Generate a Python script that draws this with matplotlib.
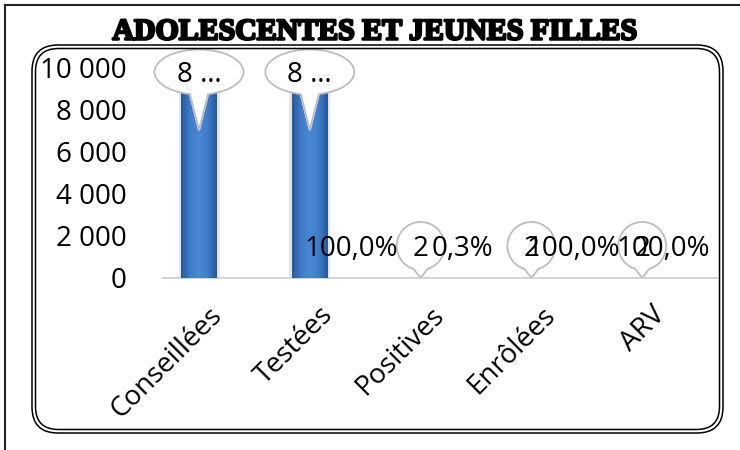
import matplotlib
matplotlib.use("Agg")
from matplotlib import pyplot as plt
from matplotlib import patheffects
from matplotlib.patches import Ellipse, Polygon, FancyBboxPatch
from matplotlib.lines import Line2D
from matplotlib.colors import LinearSegmentedColormap
from matplotlib.transforms import ScaledTranslation
import numpy as np

categories = ['Conseillées', 'Testées', 'Positives', 'Enrôlées', 'ARV']
effectifs = [8950, 8950, 2, 2, 2]
pourcentages = [None, 100.0, 0.3, 100.0, 100.0]
y_ticks = [0, 2000, 4000, 6000, 8000, 10000]
title = 'ADOLESCENTES ET JEUNES FILLES'

W, H = 740, 450
fig = plt.figure(figsize=(W / 100, H / 100), dpi=100)
plt.rcParams['font.family'] = ['Open Sans', 'DejaVu Sans']


def px(x, y):
    # pixel coords from top-left -> figure inches
    return x / 100, (H - y) / 100


# frames
inch = fig.dpi_scale_trans
fig.add_artist(Line2D([px(5, 0)[0], px(5, 0)[0]], [px(0, 5)[1], px(0, 450)[1]],
                      transform=inch, color='#222222', lw=1.5))
fig.add_artist(Line2D([px(5, 0)[0], px(740, 0)[0]], [px(0, 5)[1], px(0, 5)[1]],
                      transform=inch, color='#222222', lw=1.5))
for x0, y0, x1, y1, r in [(32, 45, 723, 433, 0.26), (35.5, 48.5, 719.5, 429.5, 0.23)]:
    a = px(x0, y1)
    b = px(x1, y0)
    fig.add_artist(FancyBboxPatch(a, b[0] - a[0], b[1] - a[1],
                                  boxstyle=f'round,pad=0,rounding_size={r}',
                                  transform=inch, fill=False, ec='black', lw=1.1))

fig.text(375 / W, 1 - 32 / H, title, ha='center', va='center',
         family='Liberation Serif', weight='bold', fontsize=21.5,
         path_effects=[patheffects.withStroke(linewidth=1.8, foreground='black')])

ax = fig.add_axes([163 / W, (H - 278) / H, (717 - 163) / W, (278 - 68) / H])
x = np.arange(len(categories))
bw = 0.32
off = -0.175

# bars with soft shadow and gradient
ax.bar(x + off, effectifs, width=bw + 0.05, color='#e6e6e6', zorder=1)
bars = ax.bar(x + off, effectifs, width=bw, color='#3a73c0', zorder=2)
cmap = LinearSegmentedColormap.from_list('bar', ['#28579a', '#3f7cca', '#4a88d4', '#3f7cca', '#28579a'])
grad = np.linspace(0, 1, 64).reshape(1, -1)
for b in bars:
    im = ax.imshow(grad, cmap=cmap, aspect='auto', zorder=3,
                   extent=[b.get_x(), b.get_x() + b.get_width(), 0, b.get_height()])
    im.set_clip_path(b)

ax.set_yticks(y_ticks)
ax.set_yticklabels([f'{v:,}'.replace(',', ' ') for v in y_ticks], fontsize=20)
ax.set_xticks(x)
ax.set_xticklabels(categories, rotation=45, ha='right', va='center',
                   rotation_mode='anchor', fontsize=20)
ax.tick_params(axis='y', length=0, pad=26)
ax.tick_params(axis='x', length=0, pad=24)
for s in ['top', 'right', 'left']:
    ax.spines[s].set_visible(False)
ax.spines['bottom'].set_color('#d0d0d0')
ax.spines['bottom'].set_linewidth(1.3)
ax.set_xlim(-0.5, len(categories) - 0.5)
ax.set_ylim(0, 10000)


def callout(xc, yv, text, w, h, dy, tip, hw):
    tr = inch + ScaledTranslation(xc, yv, ax.transData)
    a, bb = w / 200, h / 200
    cy = dy / 100
    e = Ellipse((0, cy), 2 * a, 2 * bb, transform=tr, fc='white', ec='#bdbdbd',
                lw=1.3, zorder=5, clip_on=False)
    ax.add_artist(e)
    hx = hw / 100
    by = cy - bb * np.sqrt(1 - (hx / a) ** 2)
    tp = tip / 100
    ax.add_artist(Polygon([(-hx, by), (0, tp), (hx, by)], closed=True, transform=tr,
                          fc='white', ec='white', lw=1.5, zorder=6, clip_on=False))
    ax.add_artist(Line2D([-hx, 0, hx], [by, tp, by], transform=tr, color='#bdbdbd',
                         lw=1.3, zorder=7, clip_on=False))
    ax.text(0, cy, text, transform=tr, ha='center', va='center_baseline',
            fontsize=20, zorder=8, clip_on=False)


ymax = ax.get_ylim()[1]
for i, v in enumerate(effectifs):
    s = f'{v:,}'.replace(',', ' ')
    if len(s) > 3:
        s = s.split(' ')[0] + ' …'
    if v > 0.8 * ymax:
        callout(i + off, ymax, s, 89, 45, -4, -62, 9)
    else:
        callout(i + off, v, s, 48, 48, 32, 0, 7)

labels = []
for i, p in enumerate(pourcentages):
    if p is None:
        continue
    t = ax.annotate(f'{p:.1f}%'.replace('.', ','), xy=(i + 0.2, 0), xytext=(0, 32),
                    textcoords='offset pixels', ha='center', va='center_baseline',
                    fontsize=20, zorder=10, annotation_clip=False)
    labels.append(t)

fig.canvas.draw()
limit = ax.get_window_extent().x1 - 7
for t in labels:
    bb = t.get_window_extent()
    if bb.x1 > limit:
        t.xyann = (-(bb.x1 - limit), 32)

fig.savefig('out.png', dpi=100)
